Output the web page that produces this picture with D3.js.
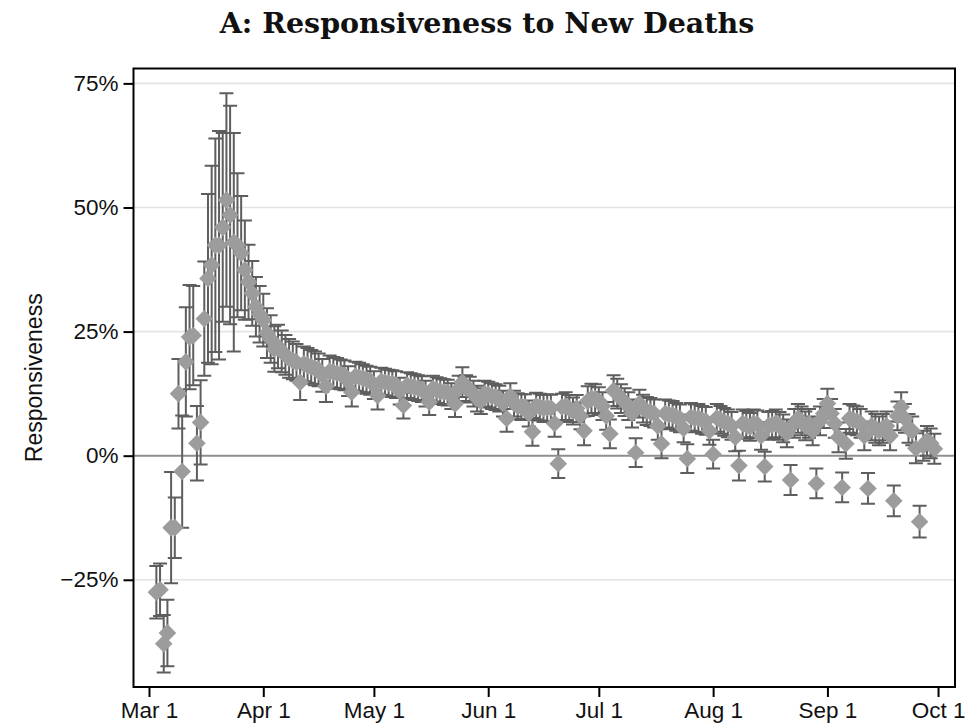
<!DOCTYPE html>
<html>
<head>
<meta charset="utf-8">
<script src="https://cdn.jsdelivr.net/npm/d3@7"></script>
<style>
  body { margin: 0; background: #fff; }
  svg { display: block; }
</style>
</head>
<body>
<svg id="chart" width="969" height="728"></svg>
<script>
// Daily responsiveness estimates (percent) with 95% CI half-widths, starting 3 March 2020
const chartTitle = "A: Responsiveness to New Deaths";
const yAxisTitle = "Responsiveness";
const firstDate = "2020-03-03";

const estimates = [
  -27.5, -27.0, -37.9, -35.7, -14.5, -14.5, 12.5, -3.2,
  18.9, 23.9, 24.2, 2.5, 6.7, 27.6, 35.7, 38.4, 42.4, 42.4,
  46.0, 51.5, 48.5, 43.0, 42.4, 40.8, 37.4, 35.0, 32.7, 30.0,
  28.5, 27.3, 24.7, 23.5, 21.5, 22.0, 21.0, 20.3, 19.6, 19.2, 18.8,
  14.8, 18.5, 18.2, 17.9, 17.6, 17.3, 16.2,
  14.0, 17.0, 16.8, 16.6, 16.4, 16.2, 15.0,
  12.8, 16.0, 15.8, 15.6, 15.3, 15.1, 14.2,
  12.1, 15.0, 14.8, 14.6, 14.5, 14.3, 13.0,
  10.1, 14.2, 14.0, 13.8, 13.6, 13.4, 12.5,
  10.8, 13.5, 13.2, 13.0, 12.8, 12.7, 12.0,
  10.4, 13.5, 14.8, 13.6, 13.3, 12.5, 11.5,
  11.0, 12.5, 12.3, 12.0, 11.8, 11.5, 10.5,
  7.5, 12.0, 10.5, 10.0, 9.8, 9.8, 8.5,
  4.8, 10.0, 9.8, 9.5, 9.7, 9.6, 6.5,
  -1.6, 9.8, 10.0, 9.5, 9.0, 9.5, 8.0,
  5.0, 11.0, 11.5, 11.5, 11.0, 10.0, 8.0,
  4.4, 13.1, 12.5, 11.5, 10.8, 10.0, 8.5,
  0.6, 10.5, 9.5, 9.0, 8.8, 8.5, 6.0,
  2.4, 8.5, 8.3, 8.2, 7.8, 7.5, 5.5,
  -0.6, 7.8, 7.5, 7.6, 7.2, 7.0, 5.0,
  0.3, 7.6, 7.2, 6.8, 6.5, 6.0, 3.7,
  -2.0, 6.5, 6.2, 5.8, 6.5, 6.3, 4.0,
  -2.2, 6.0, 6.2, 6.5, 6.0, 5.5, 4.5,
  -4.9, 6.5, 7.5, 7.0, 6.0, 6.5, 5.0,
  -5.6, 7.0, 8.5, 10.5, 8.5, 6.5, 3.7,
  -6.4, 2.4, 7.5, 7.2, 7.0, 6.5, 4.0,
  -6.6, 6.0, 5.5, 5.0, 5.5, 6.0, 4.0,
  -9.1, 8.0, 9.8, 7.5, 5.5, 5.0, 1.5,
  -13.3, 2.0, 3.0, 2.5, 1.4
];

const ciHalfWidths = [
  5.3, 5.3, 5.8, 6.7, 11.2, 6.1, 7.0, 11.3,
  11.0, 10.5, 10.0, 7.5, 8.5, 11.5, 17.0, 20.0, 21.5, 23.0,
  19.0, 21.5, 22.0, 22.0, 14.5, 11.5, 10.0, 7.5, 6.5, 6.0,
  5.7, 5.3, 5.0, 4.8, 4.6, 4.4, 4.2, 4.0, 3.9, 3.8, 3.7,
  3.6, 3.5, 3.5, 3.4, 3.4, 3.3, 3.3,
  3.2, 3.2, 3.1, 3.1, 3.0, 3.0, 3.0,
  2.9, 2.9, 2.9, 2.8, 2.8, 2.8, 2.8,
  2.8, 2.7, 2.7, 2.7, 2.7, 2.7, 2.7,
  2.6, 2.6, 2.6, 2.6, 2.6, 2.6, 2.6,
  2.6, 2.6, 2.6, 2.6, 2.6, 2.6, 2.6,
  2.6, 2.6, 3.0, 2.6, 2.6, 2.6, 2.6,
  2.6, 2.6, 2.6, 2.6, 2.6, 2.6, 2.6,
  2.7, 2.6, 2.6, 2.6, 2.6, 2.6, 2.6,
  2.8, 2.7, 2.7, 2.7, 2.7, 2.7, 2.7,
  2.9, 2.7, 2.8, 2.7, 2.7, 2.7, 2.7,
  2.9, 3.0, 3.0, 2.9, 2.8, 2.8, 2.8,
  2.9, 3.1, 3.0, 2.9, 2.8, 2.8, 2.8,
  2.9, 2.8, 2.8, 2.8, 2.8, 2.8, 2.8,
  2.9, 2.8, 2.8, 2.8, 2.8, 2.8, 2.8,
  2.9, 2.8, 2.8, 2.8, 2.8, 2.8, 2.8,
  2.9, 2.8, 2.8, 2.8, 2.8, 2.8, 2.8,
  3.0, 2.8, 2.8, 2.8, 2.8, 2.8, 2.8,
  3.0, 2.8, 2.8, 2.8, 2.8, 2.8, 2.8,
  3.0, 2.9, 2.9, 2.9, 2.9, 2.9, 2.9,
  3.0, 2.9, 2.9, 3.0, 2.9, 2.9, 3.0,
  3.0, 3.0, 2.9, 2.9, 2.9, 2.9, 2.9,
  3.1, 2.9, 2.9, 2.9, 2.9, 2.9, 2.9,
  3.1, 2.9, 3.0, 2.9, 2.9, 2.9, 3.0,
  3.2, 3.0, 3.0, 3.0, 3.0
];

const xTickDates = ["2020-03-01", "2020-04-01", "2020-05-01", "2020-06-01",
                    "2020-07-01", "2020-08-01", "2020-09-01", "2020-10-01"];
const xTickLabels = ["Mar 1", "Apr 1", "May 1", "Jun 1", "Jul 1", "Aug 1", "Sep 1", "Oct 1"];
const yTickValues = [-25, 0, 25, 50, 75];
const yTickLabels = ["\u221225%", "0%", "25%", "50%", "75%"];
const gridValues = [-25, 25, 50, 75];

const parseDay = d3.utcParse("%Y-%m-%d");
const start = parseDay(firstDate);
const rows = estimates.map((v, i) => ({
  date: d3.utcDay.offset(start, i),
  est: v,
  lo: v - ciHalfWidths[i],
  hi: v + ciHalfWidths[i]
}));

// plotting frame
const frame = { left: 133.5, right: 955, top: 68.5, bottom: 687 };

const x = d3.scaleUtc()
  .domain([new Date(Date.UTC(2020, 1, 25, 19, 12)), new Date(Date.UTC(2020, 9, 5, 14, 24))])
  .range([frame.left, frame.right]);

const y = d3.scaleLinear()
  .domain([-46.6, 78])
  .range([frame.bottom, frame.top]);

const svg = d3.select("#chart");
const sans = "'Liberation Sans', Arial, Helvetica, sans-serif";

svg.append("rect").attr("width", 969).attr("height", 728).attr("fill", "#fff");

// title
svg.append("text")
  .attr("x", 487).attr("y", 33)
  .attr("text-anchor", "middle")
  .attr("font-family", "'DejaVu Serif', serif")
  .attr("font-weight", "bold")
  .attr("font-size", 28.5)
  .attr("fill", "#111")
  .text(chartTitle);

// horizontal grid
svg.append("g").selectAll("line")
  .data(gridValues)
  .join("line")
  .attr("x1", frame.left).attr("x2", frame.right)
  .attr("y1", d => y(d)).attr("y2", d => y(d))
  .attr("stroke", "#e3e3e3")
  .attr("stroke-width", 1.6);

// zero reference line
svg.append("line")
  .attr("x1", frame.left).attr("x2", frame.right)
  .attr("y1", y(0)).attr("y2", y(0))
  .attr("stroke", "#8e8e8e")
  .attr("stroke-width", 2);

// confidence intervals
const capHalf = 7;
const bars = svg.append("g")
  .attr("stroke", "#5e5e5e")
  .attr("stroke-width", 2)
  .attr("fill", "none");

bars.selectAll("path")
  .data(rows)
  .join("path")
  .attr("d", d => {
    const cx = x(d.date), yl = y(d.lo), yh = y(d.hi);
    return `M${cx},${yl}V${yh}M${cx - capHalf},${yh}H${cx + capHalf}M${cx - capHalf},${yl}H${cx + capHalf}`;
  });

// point estimates as diamonds
const diamond = d3.symbol().type(d3.symbolSquare).size(155);
svg.append("g").selectAll("path")
  .data(rows)
  .join("path")
  .attr("d", diamond)
  .attr("transform", d => `translate(${x(d.date)},${y(d.est)}) rotate(45)`)
  .attr("fill", "#9c9c9c");

// frame
svg.append("rect")
  .attr("x", frame.left).attr("y", frame.top)
  .attr("width", frame.right - frame.left)
  .attr("height", frame.bottom - frame.top)
  .attr("fill", "none")
  .attr("stroke", "#000")
  .attr("stroke-width", 2);

// axes
const yAxis = d3.axisLeft(y)
  .tickValues(yTickValues)
  .tickFormat((d, i) => yTickLabels[i])
  .tickSize(10)
  .tickPadding(5);

const gy = svg.append("g")
  .attr("transform", `translate(${frame.left},0)`)
  .call(yAxis);

const xAxis = d3.axisBottom(x)
  .tickValues(xTickDates.map(parseDay))
  .tickFormat((d, i) => xTickLabels[i])
  .tickSize(10)
  .tickPadding(5);

const gx = svg.append("g")
  .attr("transform", `translate(0,${frame.bottom})`)
  .call(xAxis);

[gx, gy].forEach(g => {
  g.select(".domain").remove();
  g.selectAll(".tick line").attr("stroke", "#000").attr("stroke-width", 2);
  g.selectAll(".tick text")
    .attr("font-family", sans)
    .attr("font-size", 22.5)
    .attr("fill", "#111");
});

// y axis title
svg.append("text")
  .attr("transform", `translate(42,${(frame.top + frame.bottom) / 2}) rotate(-90)`)
  .attr("text-anchor", "middle")
  .attr("font-family", sans)
  .attr("font-size", 23)
  .attr("fill", "#111")
  .text(yAxisTitle);
</script>
</body>
</html>
